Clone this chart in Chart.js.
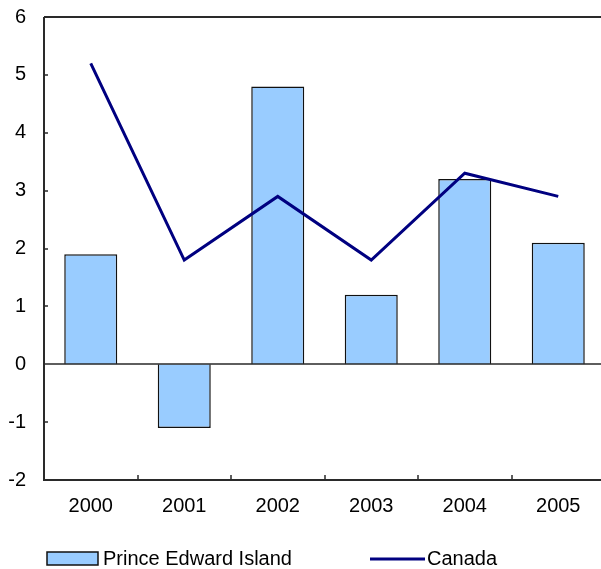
<!DOCTYPE html>
<html>
<head>
<meta charset="utf-8">
<script src="https://cdn.jsdelivr.net/npm/chart.js"></script>
<style>
  html, body { margin: 0; padding: 0; background: #fff; overflow: hidden; }
  #wrap { width: 601px; height: 569px; overflow: hidden; }
</style>
</head>
<body>
<div id="wrap"><canvas id="chart" width="606" height="569"></canvas></div>
<script>
const years = ['2000', '2001', '2002', '2003', '2004', '2005'];
const peiValues = [1.9, -1.1, 4.8, 1.2, 3.2, 2.1];
const canadaValues = [5.2, 1.8, 2.9, 1.8, 3.3, 2.9];
const seriesNames = ['Prince Edward Island', 'Canada'];

const barColor = '#99ccff';
const lineColor = '#000080';
const axisColor = '#2a2a2a';
const font = { family: 'Liberation Sans, Arial, sans-serif', size: 20 };

// axis frame, zero line, inward ticks and the legend under the plot
const framePlugin = {
    id: 'frame',
    afterDatasetsDraw(chart) {
        const ctx = chart.ctx;
        const area = chart.chartArea;
        const x = chart.scales.x;
        const y = chart.scales.y;
        ctx.save();
        ctx.strokeStyle = axisColor;
        ctx.lineWidth = 2;
        ctx.beginPath();
        ctx.moveTo(area.left, area.top);
        ctx.lineTo(area.right, area.top);
        ctx.moveTo(area.left, area.top);
        ctx.lineTo(area.left, area.bottom);
        ctx.lineTo(area.right, area.bottom);
        ctx.stroke();

        ctx.lineWidth = 1.5;
        ctx.beginPath();
        const y0 = Math.round(y.getPixelForValue(0));
        ctx.moveTo(area.left, y0);
        ctx.lineTo(area.right, y0);
        y.ticks.forEach(t => {
            const py = Math.round(y.getPixelForValue(t.value));
            ctx.moveTo(area.left, py);
            ctx.lineTo(area.left + 4, py);
        });
        for (let i = 1; i < years.length; i++) {
            const px = Math.round((x.getPixelForValue(i - 1) + x.getPixelForValue(i)) / 2);
            ctx.moveTo(px, area.bottom);
            ctx.lineTo(px, area.bottom - 5);
        }
        ctx.stroke();
        ctx.restore();
    },
    afterDraw(chart) {
        const ctx = chart.ctx;
        ctx.save();
        ctx.font = font.size + 'px ' + font.family;
        ctx.textBaseline = 'middle';

        ctx.fillStyle = barColor;
        ctx.fillRect(47, 552, 51, 13);
        ctx.strokeStyle = '#111';
        ctx.lineWidth = 1.5;
        ctx.strokeRect(47, 552, 51, 13);
        ctx.fillStyle = '#000';
        ctx.fillText(seriesNames[0], 103, 559);

        ctx.strokeStyle = lineColor;
        ctx.lineWidth = 3;
        ctx.beginPath();
        ctx.moveTo(370, 559);
        ctx.lineTo(425, 559);
        ctx.stroke();
        ctx.fillText(seriesNames[1], 427, 559);
        ctx.restore();
    }
};

new Chart(document.getElementById('chart'), {
    data: {
        labels: years,
        datasets: [
            {
                type: 'bar',
                label: seriesNames[0],
                data: peiValues,
                backgroundColor: barColor,
                borderColor: '#111',
                borderWidth: 1.5,
                barPercentage: 0.567,
                categoryPercentage: 1,
                order: 1
            },
            {
                type: 'line',
                label: seriesNames[1],
                data: canadaValues,
                borderColor: lineColor,
                borderWidth: 3,
                pointRadius: 0,
                tension: 0,
                fill: false,
                order: 0
            }
        ]
    },
    options: {
        responsive: false,
        animation: false,
        events: [],
        layout: { padding: { top: 17, right: 1, bottom: 45, left: 0 } },
        plugins: { legend: { display: false }, tooltip: { enabled: false } },
        scales: {
            x: {
                grid: { display: false, drawTicks: false },
                border: { display: false },
                ticks: { color: '#000', font: font, padding: 14, maxRotation: 0 },
                afterFit(scale) {
                    scale.height = 44;
                    scale.paddingLeft = 0;
                    scale.paddingRight = 0;
                }
            },
            y: {
                min: -2,
                max: 6,
                grid: { display: false, drawTicks: false },
                border: { display: false },
                ticks: { stepSize: 1, color: '#000', font: font, padding: 18 },
                afterFit(scale) {
                    scale.width = 44;
                    scale.paddingTop = 0;
                    scale.paddingBottom = 0;
                }
            }
        }
    },
    plugins: [framePlugin]
});
</script>
</body>
</html>
